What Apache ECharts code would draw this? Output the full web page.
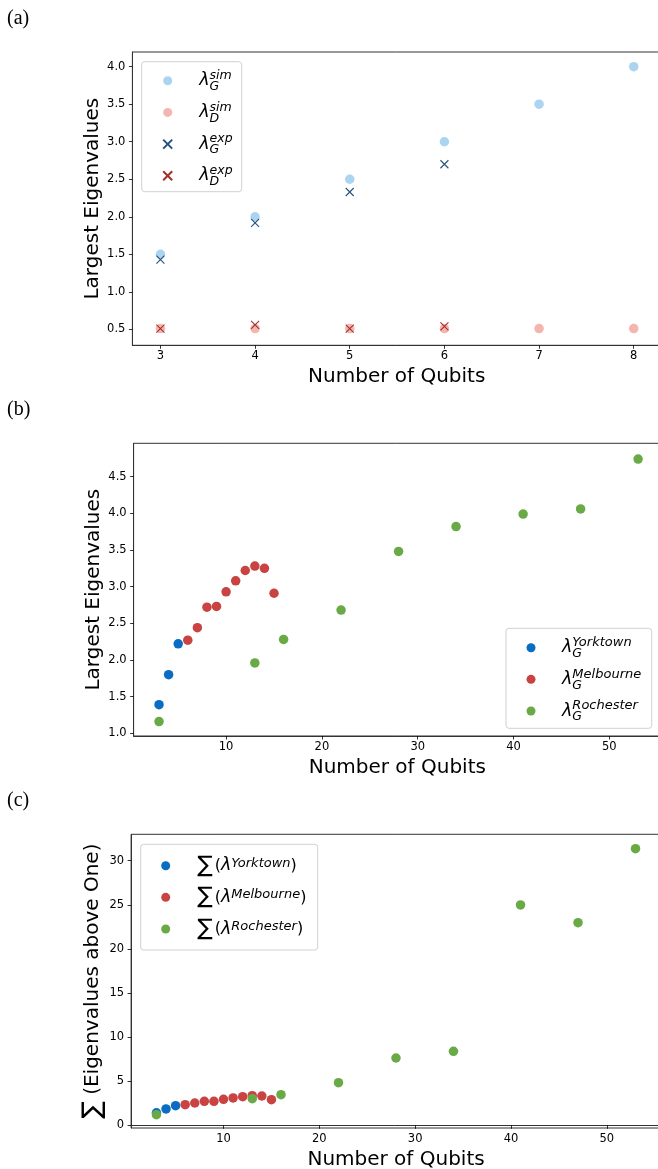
<!DOCTYPE html>
<html><head><meta charset="utf-8">
<script src="https://cdn.jsdelivr.net/npm/echarts@6/dist/echarts.min.js"></script>
<style>html,body{margin:0;padding:0;background:#fff}#c{width:658px;height:1169px}</style>
</head><body><div id="c"></div>
<script>
// ---------- data ----------
// Panel (a)
const qA = [3, 4, 5, 6, 7, 8];
const simG = [1.50, 2.00, 2.50, 3.00, 3.50, 4.00];
const simD = [0.51, 0.51, 0.51, 0.51, 0.51, 0.51];
const qExp = [3, 4, 5, 6];
const expG = [1.43, 1.92, 2.33, 2.70];
const expD = [0.51, 0.56, 0.51, 0.54];
// Panels (b), (c)
const qYork = [3, 4, 5];
const qMelb = [6, 7, 8, 9, 10, 11, 12, 13, 14, 15];
const qRoch = [3, 13, 16, 22, 28, 34, 41, 47, 53];
const largestYork = [1.39, 1.80, 2.22];
const largestMelb = [2.27, 2.44, 2.72, 2.73, 2.93, 3.08, 3.22, 3.28, 3.25, 2.91];
const largestRoch = [1.16, 1.96, 2.28, 2.68, 3.48, 3.82, 3.99, 4.06, 4.74];
const sumYork = [1.42, 1.85, 2.22];
const sumMelb = [2.34, 2.53, 2.72, 2.72, 2.95, 3.10, 3.24, 3.36, 3.32, 2.90];
const sumRoch = [1.20, 3.02, 3.47, 4.83, 7.63, 8.39, 24.98, 22.97, 31.36];
// tick labels
const ticksXA = [3, 4, 5, 6, 7, 8];
const ticksYA = [0.5, 1.0, 1.5, 2.0, 2.5, 3.0, 3.5, 4.0];
const ticksXBC = [10, 20, 30, 40, 50];
const ticksYB = [1.0, 1.5, 2.0, 2.5, 3.0, 3.5, 4.0, 4.5];
const ticksYC = [0, 5, 10, 15, 20, 25, 30];

// ---------- helpers ----------
const F = 'DejaVu Sans';
const pts = (xs, ys) => xs.map((x, i) => [x, ys[i]]);
const CROSS = 'path://M0,0L10,10M0,10L10,0';

function xAx(i, min, max, ticks) {
  return {
    type: 'value', gridIndex: i, min: min, max: max,
    axisLine: {show: true, lineStyle: {color: '#333', width: 1}},
    splitLine: {show: false},
    axisTick: {show: true, length: 3.5, customValues: ticks, lineStyle: {color: '#000', width: 0.8}},
    axisLabel: {customValues: ticks, fontFamily: F, fontSize: 11.5, color: '#000', margin: 5},
    name: 'Number of Qubits', nameLocation: 'middle', nameGap: 21.5, nameMoveOverlap: false,
    nameTextStyle: {fontFamily: F, fontSize: 20, color: '#000'}
  };
}
function yAx(i, min, max, ticks, fmt, name, gap, rich) {
  return {
    type: 'value', gridIndex: i, min: min, max: max,
    axisLine: {show: true, lineStyle: {color: '#333', width: 1}},
    splitLine: {show: false},
    axisTick: {show: true, length: 3.5, customValues: ticks, lineStyle: {color: '#000', width: 0.8}},
    axisLabel: {customValues: ticks, fontFamily: F, fontSize: 11.5, color: '#000', margin: 7, formatter: fmt},
    name: name, nameLocation: 'middle', nameGap: gap, nameMoveOverlap: false,
    nameTextStyle: {fontFamily: F, fontSize: 20, color: '#000', rich: rich}
  };
}
function sc(name, xi, data, color, size, cross) {
  const s = {
    type: 'scatter', name: name, xAxisIndex: xi, yAxisIndex: xi, data: data,
    symbolSize: size, silent: true, emphasis: {disabled: true}, animation: false
  };
  if (cross) {
    s.symbol = CROSS;
    s.itemStyle = {color: 'rgba(0,0,0,0)', borderColor: color, borderWidth: 1.1, opacity: 1};
  } else {
    s.symbol = 'circle';
    s.itemStyle = {color: color, opacity: 1};
  }
  return s;
}
function richAB(pad, supSize) {
  return {
    l: {fontFamily: F, fontStyle: 'italic', fontSize: 17.5, lineHeight: 24, color: '#000', padding: [0, 0, 0, pad]},
    b: {fontFamily: F, fontStyle: 'italic', fontSize: 12.5, lineHeight: 12, height: 12, width: 0, verticalAlign: 'bottom', color: '#000'},
    t: {fontFamily: F, fontStyle: 'italic', fontSize: supSize, lineHeight: 14, height: 14, verticalAlign: 'top', color: '#000'}
  };
}
function richC(pad) {
  return {
    s: {fontFamily: F, fontSize: 23, lineHeight: 26, color: '#000', padding: [0, 2, 0, pad]},
    p: {fontFamily: F, fontSize: 16, lineHeight: 16, color: '#000'},
    l: {fontFamily: F, fontStyle: 'italic', fontSize: 17.5, lineHeight: 20, color: '#000'},
    t: {fontFamily: F, fontStyle: 'italic', fontSize: 13, lineHeight: 21, height: 21, verticalAlign: 'top', color: '#000'}
  };
}
const legendText = {
  simG: '{l|λ}{b|G}{t|sim}', simD: '{l|λ}{b|D}{t|sim}',
  expG: '{l|λ}{b|G}{t|exp}', expD: '{l|λ}{b|D}{t|exp}',
  yorkB: '{l|λ}{b|G}{t|Yorktown}', melbB: '{l|λ}{b|G}{t|Melbourne}', rochB: '{l|λ}{b|G}{t|Rochester}',
  yorkC: '{s|∑}{p|(}{l|λ}{t|Yorktown}{p|)}', melbC: '{s|∑}{p|(}{l|λ}{t|Melbourne}{p|)}',
  rochC: '{s|∑}{p|(}{l|λ}{t|Rochester}{p|)}'
};
function leg(names, left, top, gap, rich) {
  return {
    orient: 'vertical', left: left, top: top, padding: 0, itemGap: gap,
    itemWidth: 9, itemHeight: 9, data: names, selectedMode: false,
    formatter: n => legendText[n], textStyle: {rich: rich}
  };
}
function box(x, y, w, h) {
  return {type: 'rect', shape: {x: x, y: y, width: w, height: h, r: 3}, z: 3,
    style: {fill: 'rgba(255,255,255,0.8)', stroke: '#d0d0d0', lineWidth: 1}};
}
function panelLabel(t, y) {
  return {type: 'text', x: 7, y: y, z: 5,
    style: {text: t, font: '20px "Liberation Serif"', fill: '#000', textVerticalAlign: 'middle'}};
}

const f1 = v => v.toFixed(1);
const f0 = v => String(v);

const BLUE = '#0a6dc3', RED = '#c94343', GREEN = '#69aa47';

const option = {
  animation: false,
  backgroundColor: '#fff',
  grid: [
    {left: 132.4, top: 52, right: -3, height: 293.3, show: true, borderColor: '#333', borderWidth: 1, outerBoundsMode: 'none'},
    {left: 133.6, top: 443.3, right: -3, height: 292.7, show: true, borderColor: '#333', borderWidth: 1, outerBoundsMode: 'none'},
    {left: 131.1, top: 834.3, right: -3, height: 293.7, show: true, borderColor: '#333', borderWidth: 1, outerBoundsMode: 'none'}
  ],
  xAxis: [
    xAx(0, 2.704, 8.288, ticksXA),
    xAx(1, 0.345, 55.39, ticksXBC),
    xAx(2, 0.355, 55.66, ticksXBC)
  ],
  yAxis: [
    yAx(0, 0.287, 4.196, ticksYA, f1, 'Largest Eigenvalues', 30),
    yAx(1, 0.963, 4.955, ticksYB, f1, 'Largest Eigenvalues', 30),
    yAx(2, -0.306, 32.99, ticksYC, f0, '{s|∑} (Eigenvalues above One)', 25,
        {s: {fontFamily: F, fontSize: 26, color: '#000'}})
  ],
  legend: [
    leg(['simG', 'simD', 'expG', 'expD'], 162.2, 68.7, 7.2, richAB(22, 12.5)),
    leg(['yorkB', 'melbB', 'rochB'], 526.5, 635.7, 7.15, richAB(21.5, 13)),
    leg(['yorkC', 'melbC', 'rochC'], 161.2, 852.7, 7.15, richC(22))
  ],
  graphic: [
    box(141.7, 61.7, 100, 130),
    box(506, 628.3, 145.7, 100),
    box(140.7, 844.3, 177, 105.7),
    panelLabel('(a)', 19),
    panelLabel('(b)', 410),
    panelLabel('(c)', 801)
  ],
  series: [
    sc('simG', 0, pts(qA, simG), '#abd4f1', 9.5, false),
    sc('simD', 0, pts(qA, simD), '#f4b5b0', 9.5, false),
    sc('expG', 0, pts(qExp, expG), '#24527d', 8, true),
    sc('expD', 0, pts(qExp, expD), '#a3302a', 8, true),
    sc('yorkB', 1, pts(qYork, largestYork), BLUE, 9.5, false),
    sc('melbB', 1, pts(qMelb, largestMelb), RED, 9.5, false),
    sc('rochB', 1, pts(qRoch, largestRoch), GREEN, 9.5, false),
    sc('yorkC', 2, pts(qYork, sumYork), BLUE, 9.5, false),
    sc('melbC', 2, pts(qMelb, sumMelb), RED, 9.5, false),
    sc('rochC', 2, pts(qRoch, sumRoch), GREEN, 9.5, false)
  ]
};
const chart = echarts.init(document.getElementById('c'));
chart.setOption(option);
</script>
</body></html>
